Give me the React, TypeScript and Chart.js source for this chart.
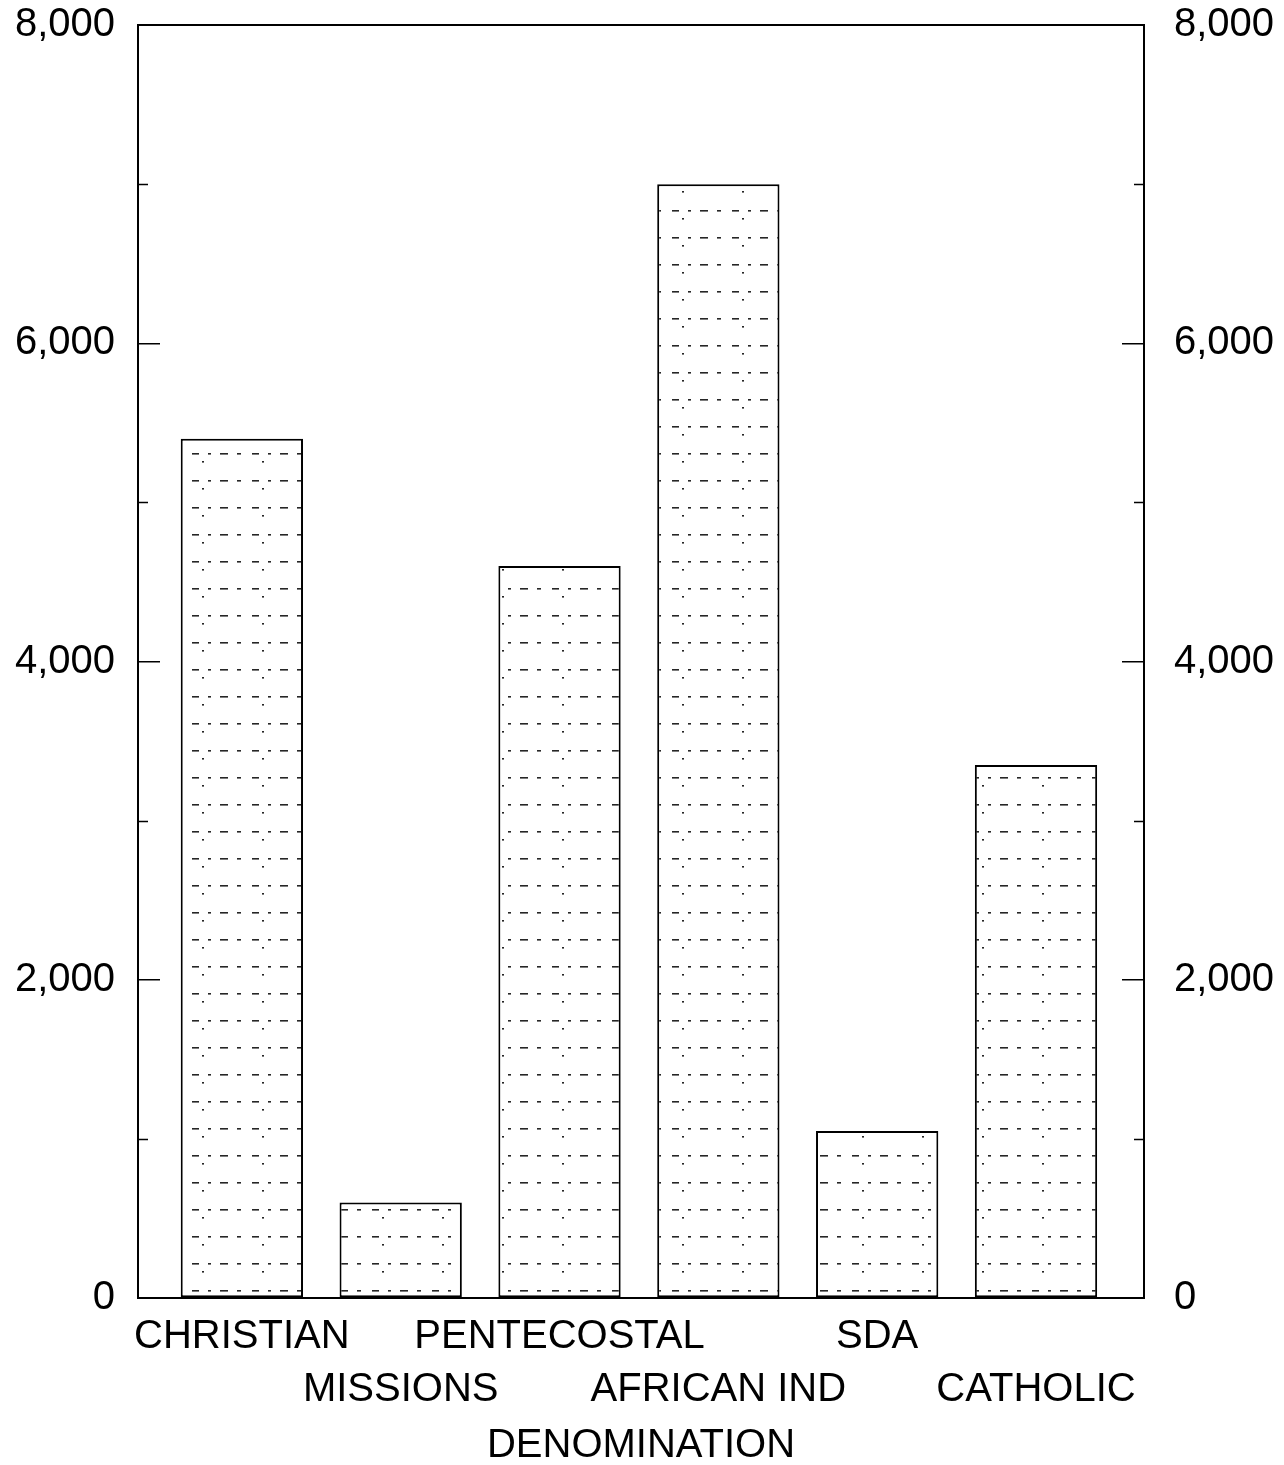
import React, { useEffect, useRef } from "react";
import { Chart, registerables } from "chart.js";

Chart.register(...registerables);

const categories = ["CHRISTIAN", "MISSIONS", "PENTECOSTAL", "AFRICAN IND", "SDA", "CATHOLIC"];
const values = [5400, 600, 4600, 7000, 1050, 3350];
const majorTicks = [0, 2000, 4000, 6000, 8000];
const minorTicks = [1000, 3000, 5000, 7000];
const axisTitle = "DENOMINATION";

const FONT = "'Liberation Sans', Arial, Helvetica, sans-serif";
const FS = 40;

function makePattern(): CanvasPattern | string {
  const c = document.createElement("canvas");
  c.width = 60;
  c.height = 27;
  const g = c.getContext("2d");
  if (!g) return "#fff";
  g.fillStyle = "#ffffff";
  g.fillRect(0, 0, 60, 27);
  g.fillStyle = "rgba(0,0,0,0.85)";
  const dashes = [
    [4, 13, 7], [20, 13, 3], [32, 13, 8], [49, 13, 4],
    [14, 21, 2],
  ];
  for (const [x, y, w] of dashes) g.fillRect(x, y, w, 1.6);
  const p = g.createPattern(c, "repeat");
  return p || "#fff";
}

const minorTickPlugin = {
  id: "minorTicks",
  afterDraw(chart: any) {
    const { ctx, chartArea, scales } = chart;
    const y = scales.y;
    ctx.save();
    ctx.strokeStyle = "#000";
    ctx.lineWidth = 1.5;
    for (const v of minorTicks) {
      const py = Math.round(y.getPixelForValue(v)) + 0.5;
      ctx.beginPath();
      ctx.moveTo(chartArea.left, py);
      ctx.lineTo(chartArea.left + 10, py);
      ctx.moveTo(chartArea.right, py);
      ctx.lineTo(chartArea.right - 10, py);
      ctx.stroke();
    }
    ctx.restore();
  },
};

export default function App() {
  const ref = useRef<HTMLCanvasElement>(null);

  useEffect(() => {
    if (!ref.current) return;
    const labelLines = categories.map((c, i) => (i % 2 === 0 ? [c] : ["", c]));
    const fmt = (v: any) => Number(v).toLocaleString("en-US");
    const xMin = -0.654;
    const xMax = 5.68;
    const yCommon = {
      min: 0,
      max: 8000,
      afterBuildTicks: (axis: any) => {
        axis.ticks = majorTicks.map((v) => ({ value: v }));
      },
      grid: {
        drawOnChartArea: false,
        drawTicks: true,
        tickLength: -22,
        color: "#000",
        lineWidth: 1.5,
      },
      border: { display: true, color: "#000", width: 2 },
    };
    const chart = new Chart(ref.current, {
      type: "bar",
      data: {
        datasets: [
          {
            data: values.map((v, i) => ({ x: i, y: v })),
            backgroundColor: makePattern() as any,
            borderColor: "#000",
            borderWidth: 2,
            borderSkipped: false,
            barPercentage: 0.77,
            categoryPercentage: 1,
          },
        ],
      },
      options: {
        responsive: false,
        animation: false,
        layout: { padding: { left: 0, right: 0, top: 17, bottom: 0 } },
        plugins: { legend: { display: false }, tooltip: { enabled: false } },
        scales: {
          x: {
            type: "linear",
            position: "bottom",
            min: xMin,
            max: xMax,
            offset: false,
            afterBuildTicks: (axis: any) => {
              axis.ticks = categories.map((_, i) => ({ value: i }));
            },
            afterFit: (axis: any) => {
              axis.height = 159;
              axis.paddingLeft = 0;
              axis.paddingRight = 0;
            },
            ticks: {
              autoSkip: false,
              maxRotation: 0,
              minRotation: 0,
              padding: 12,
              color: "#000",
              font: { family: FONT, size: FS, lineHeight: 53 / FS },
              callback: (v: any) => labelLines[Number(v)] ?? "",
            },
            grid: { display: false, drawTicks: false },
            border: { display: true, color: "#000", width: 2 },
            title: {
              display: true,
              text: axisTitle,
              color: "#000",
              font: { family: FONT, size: FS, lineHeight: 0.57 },
              padding: { top: 0, bottom: 0 },
            },
          },
          x2: {
            type: "linear",
            position: "top",
            min: xMin,
            max: xMax,
            ticks: { display: false },
            grid: { display: false, drawTicks: false },
            border: { display: true, color: "#000", width: 2 },
            afterFit: (axis: any) => {
              axis.height = 0;
              axis.paddingLeft = 0;
              axis.paddingRight = 0;
            },
          },
          y: {
            ...yCommon,
            position: "left",
            afterFit: (axis: any) => {
              axis.width = 130;
              axis.paddingTop = 0;
              axis.paddingBottom = 0;
            },
            ticks: {
              padding: 45,
              color: "#000",
              font: { family: FONT, size: FS, lineHeight: 0.8 },
              callback: fmt,
            },
          },
          y2: {
            ...yCommon,
            position: "right",
            afterFit: (axis: any) => {
              axis.width = 132;
              axis.paddingTop = 0;
              axis.paddingBottom = 0;
            },
            ticks: {
              padding: 52,
              color: "#000",
              font: { family: FONT, size: FS, lineHeight: 0.8 },
              callback: fmt,
            },
          },
        } as any,
      },
      plugins: [minorTickPlugin],
    });
    return () => chart.destroy();
  }, []);

  return (
    <div style={{ width: 1268, height: 1449 }}>
      <canvas ref={ref} width={1268} height={1449} />
    </div>
  );
}
